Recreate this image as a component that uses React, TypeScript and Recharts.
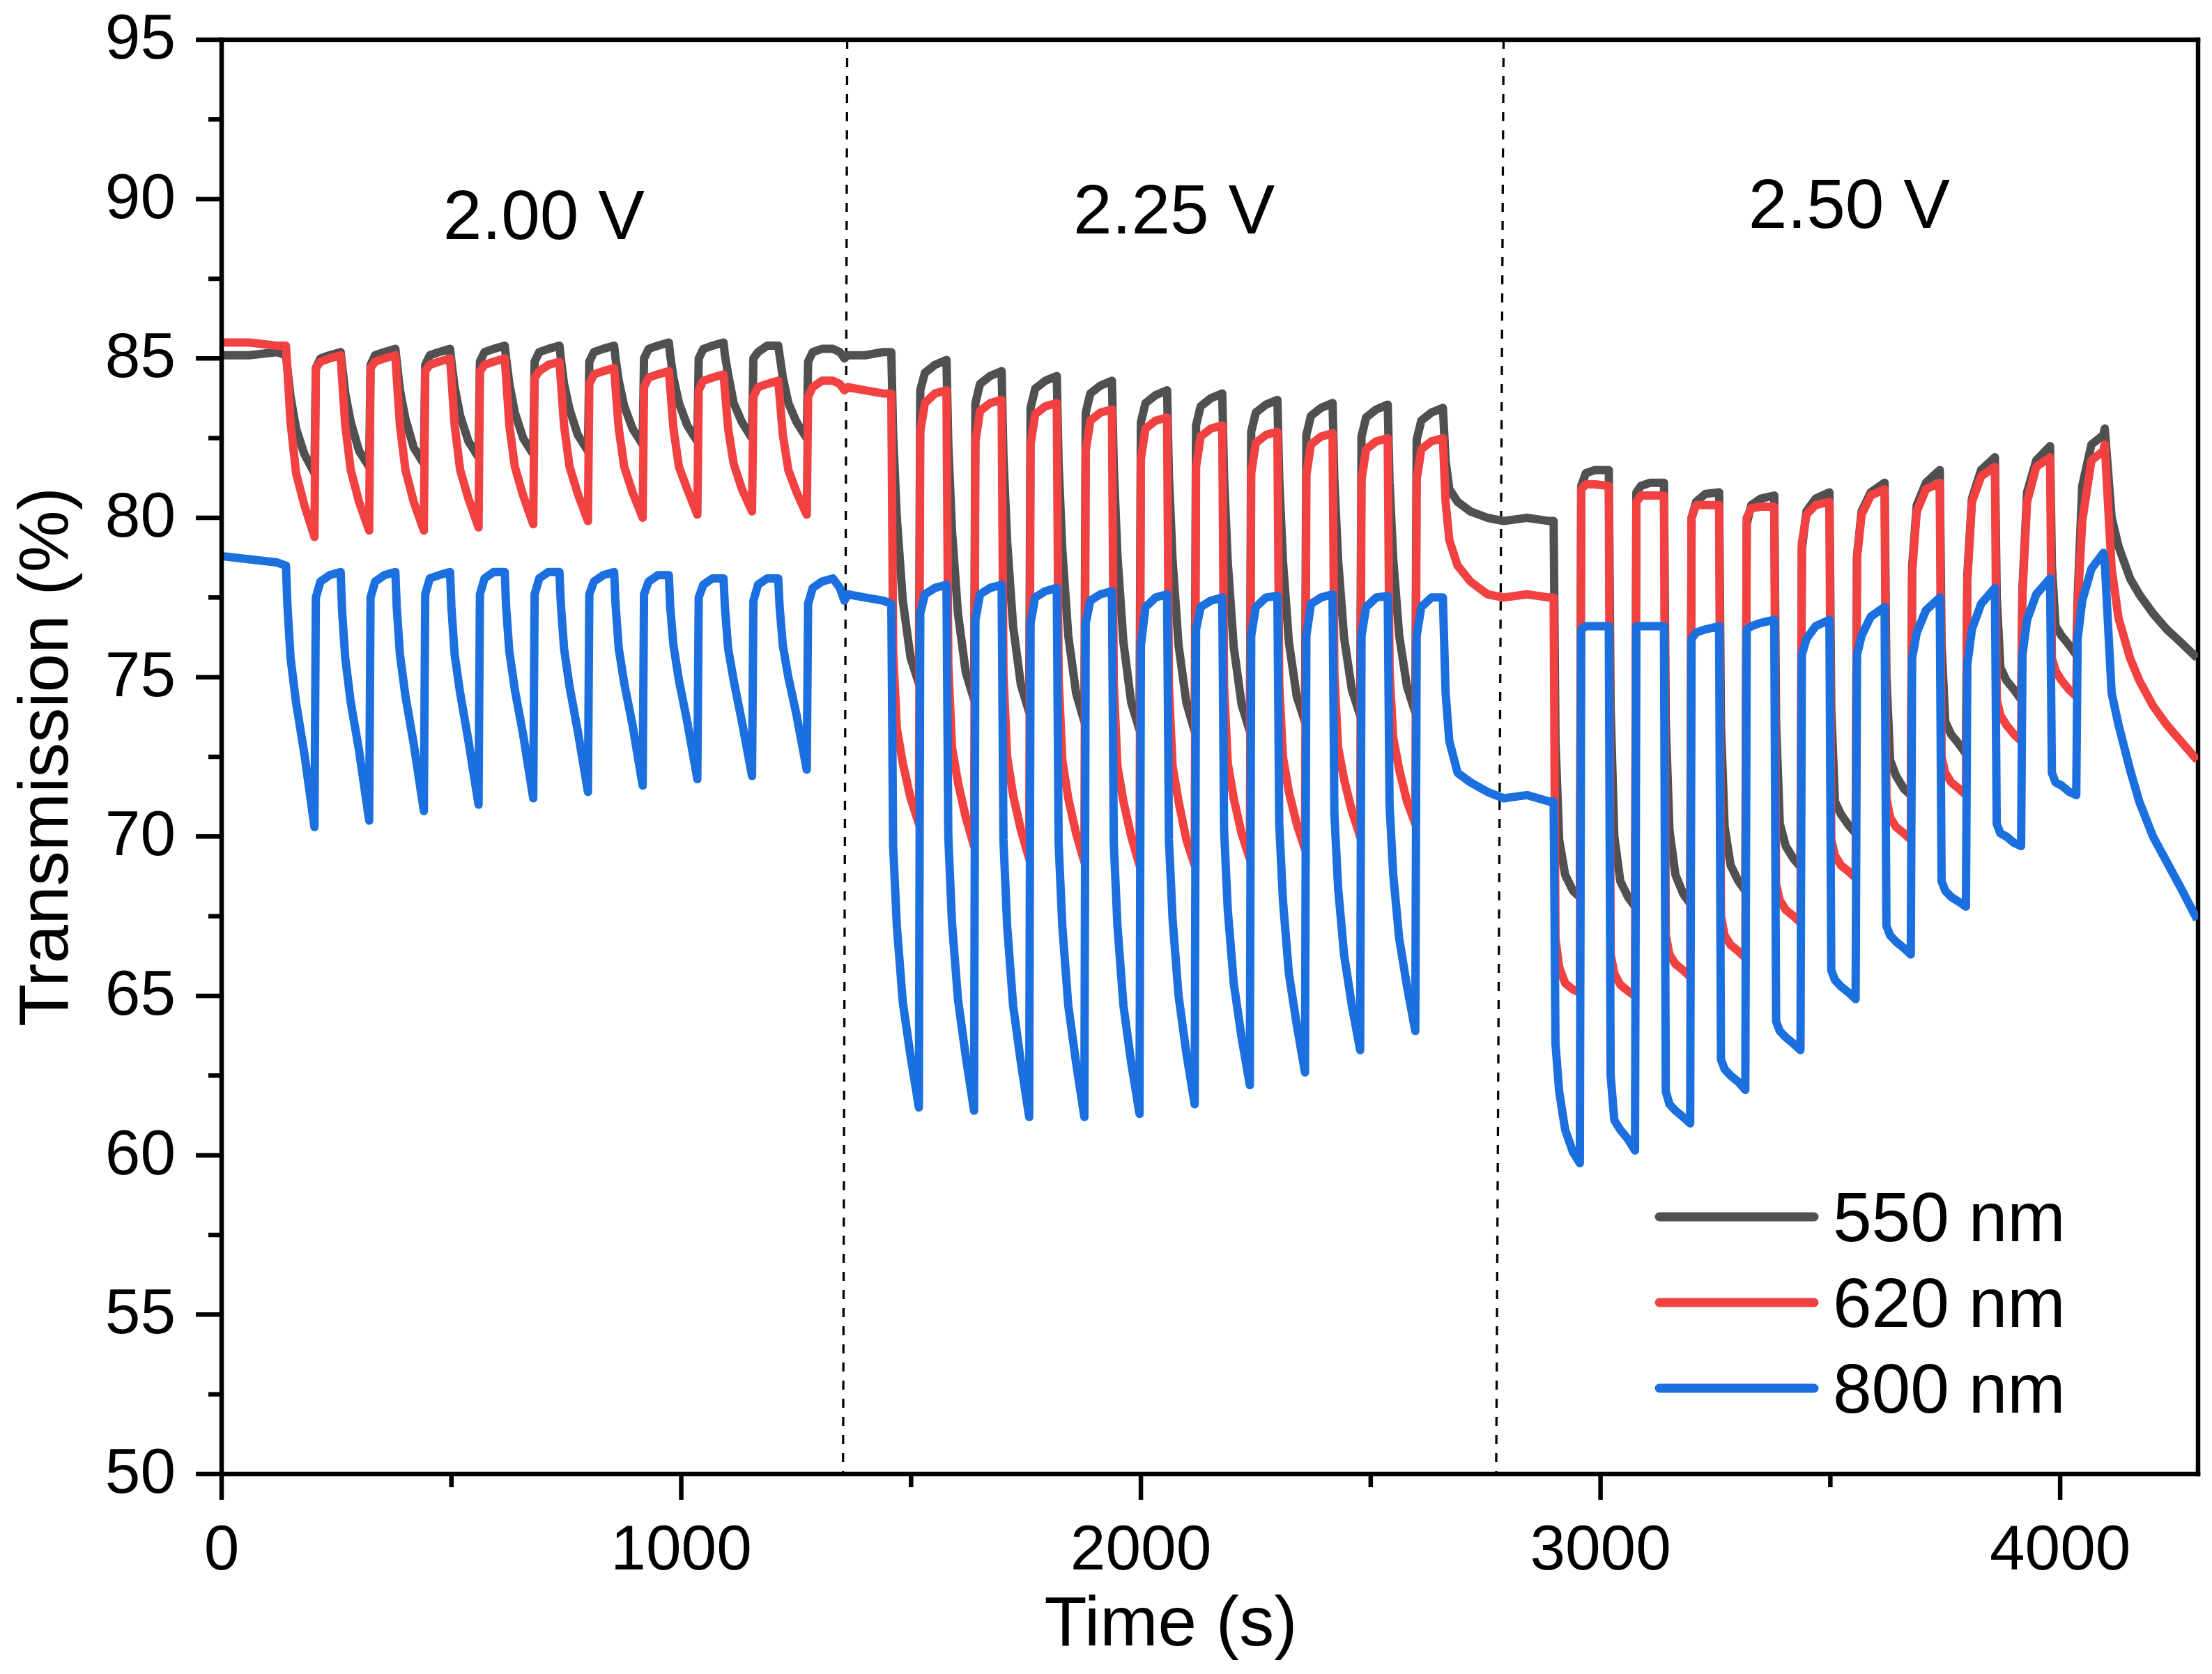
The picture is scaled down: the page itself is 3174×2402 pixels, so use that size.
import { LineChart, Line, XAxis, YAxis, ReferenceLine, ReferenceDot, Legend } from 'recharts';

// canvas + plot box (px)
const W = 3174;
const H = 2402;
const PLOT = { left: 318, top: 57, right: 3154, bottom: 2115 };
const FONT = '"Liberation Sans", Arial, Helvetica, sans-serif';

const seriesNames = ['550 nm', '620 nm', '800 nm'];
const seriesColors = ['#505050', '#f24141', '#1b6fde'];

const xTicks = [0, 500, 1000, 1500, 2000, 2500, 3000, 3500, 4000];
const yTicks = [50, 52.5, 55, 57.5, 60, 62.5, 65, 67.5, 70, 72.5, 75, 77.5, 80, 82.5, 85, 87.5, 90, 92.5, 95];

const voltageLabels = ['2.00 V', '2.25 V', '2.50 V'];
const voltageX = [701, 2072, 3541];
const voltageY = [89.52, 89.7, 89.87];

// ---- 2.00 V block: cycle start times (s) and sample offsets inside each cycle
const offsets200 = [0, 3, 10, 22, 40, 62, 65, 75, 95];
const starts200 = [140, 259, 378, 497, 616, 735, 854, 973, 1092, 1211];
const black200 = [
  [85.1, 84.7, 83.8, 82.8, 82.0, 81.4, 84.7, 85.0, 85.1],
  [85.2, 84.8, 83.9, 83.0, 82.1, 81.6, 84.8, 85.1, 85.2],
  [85.3, 84.9, 84.0, 83.1, 82.2, 81.7, 84.8, 85.1, 85.2],
  [85.3, 84.9, 84.1, 83.2, 82.4, 81.9, 84.9, 85.2, 85.3],
  [85.4, 85.0, 84.2, 83.3, 82.5, 82.0, 84.9, 85.2, 85.3],
  [85.4, 85.0, 84.2, 83.4, 82.6, 82.1, 84.9, 85.2, 85.3],
  [85.4, 85.0, 84.3, 83.5, 82.8, 82.3, 85.0, 85.3, 85.4],
  [85.5, 85.1, 84.4, 83.6, 82.9, 82.4, 85.0, 85.3, 85.4],
  [85.5, 85.1, 84.5, 83.6, 83.0, 82.5, 85.0, 85.2, 85.4],
  [85.4, 85.1, 84.4, 83.6, 83.0, 82.5, 84.9, 85.2, 85.3],
];
const red200 = [
  [85.4, 84.7, 83.0, 81.4, 80.4, 79.4, 84.7, 84.9, 85.0],
  [85.1, 84.4, 82.9, 81.5, 80.5, 79.6, 84.7, 84.9, 85.0],
  [85.1, 84.4, 82.9, 81.5, 80.5, 79.6, 84.6, 84.8, 84.9],
  [85.0, 84.4, 82.9, 81.5, 80.6, 79.7, 84.6, 84.8, 84.9],
  [85.0, 84.4, 82.9, 81.6, 80.7, 79.8, 84.4, 84.6, 84.8],
  [84.9, 84.3, 82.9, 81.6, 80.75, 79.9, 84.2, 84.5, 84.6],
  [84.7, 84.1, 82.8, 81.6, 80.8, 80.0, 84.1, 84.4, 84.5],
  [84.6, 84.1, 82.8, 81.6, 80.9, 80.1, 84.0, 84.3, 84.4],
  [84.5, 84.0, 82.8, 81.7, 80.9, 80.2, 83.8, 84.1, 84.2],
  [84.3, 83.8, 82.6, 81.5, 80.8, 80.1, 83.8, 84.1, 84.3],
];
const blue200 = [
  [78.5, 77.3, 75.6, 74.2, 72.6, 70.3, 77.5, 78.0, 78.2],
  [78.3, 77.1, 75.6, 74.2, 72.7, 70.5, 77.5, 78.0, 78.2],
  [78.3, 77.2, 75.7, 74.4, 72.9, 70.8, 77.6, 78.1, 78.2],
  [78.3, 77.2, 75.7, 74.5, 73.0, 71.0, 77.6, 78.1, 78.3],
  [78.3, 77.2, 75.8, 74.6, 73.2, 71.2, 77.6, 78.1, 78.3],
  [78.3, 77.3, 75.9, 74.7, 73.3, 71.4, 77.6, 78.0, 78.2],
  [78.3, 77.3, 75.9, 74.8, 73.5, 71.6, 77.6, 78.0, 78.2],
  [78.2, 77.2, 76.0, 74.9, 73.6, 71.8, 77.5, 77.9, 78.1],
  [78.1, 77.2, 75.9, 74.9, 73.6, 71.9, 77.4, 77.9, 78.1],
  [78.1, 77.2, 76.0, 75.0, 73.8, 72.1, 77.3, 77.8, 78.0],
];

// ---- 2.25 V block
const offsets225 = [0, 4, 12, 25, 42, 60, 63, 73, 95];
const starts225 = [1457, 1577, 1697, 1817, 1937, 2057, 2177, 2297, 2417, 2537];
const black225 = [
  [85.2, 82.6, 80.0, 77.4, 75.6, 74.8, 84.0, 84.55, 84.8],
  [84.95, 82.3, 79.6, 77.0, 75.15, 74.3, 83.6, 84.2, 84.45],
  [84.6, 81.9, 79.25, 76.6, 74.75, 73.9, 83.45, 84.05, 84.3],
  [84.45, 81.7, 79.0, 76.3, 74.5, 73.6, 83.3, 83.9, 84.15],
  [84.3, 81.6, 78.8, 76.1, 74.2, 73.35, 83.0, 83.6, 83.85],
  [84.0, 81.3, 78.65, 76.0, 74.2, 73.3, 82.9, 83.5, 83.75],
  [83.9, 81.25, 78.6, 75.95, 74.15, 73.3, 82.7, 83.3, 83.55],
  [83.7, 81.2, 78.65, 76.1, 74.4, 73.6, 82.6, 83.2, 83.45],
  [83.6, 81.15, 78.7, 76.25, 74.6, 73.8, 82.55, 83.15, 83.4],
  [83.55, 81.1, 78.7, 76.3, 74.7, 73.9, 82.45, 83.05, 83.3],
];
const red225 = [
  [83.9, 75.8, 73.4, 72.3, 71.2, 70.4, 82.7, 83.6, 83.9],
  [84.0, 75.4, 72.8, 71.7, 70.6, 69.7, 82.4, 83.35, 83.6],
  [83.7, 75.1, 72.5, 71.3, 70.2, 69.3, 82.3, 83.25, 83.5],
  [83.6, 75.0, 72.4, 71.2, 70.1, 69.2, 82.1, 83.05, 83.3],
  [83.4, 74.8, 72.2, 71.1, 70.0, 69.1, 81.85, 82.8, 83.05],
  [83.15, 74.7, 72.2, 71.1, 69.9, 69.1, 81.6, 82.55, 82.8],
  [82.9, 74.7, 72.3, 71.2, 70.1, 69.3, 81.4, 82.35, 82.6],
  [82.7, 74.8, 72.5, 71.4, 70.4, 69.6, 81.35, 82.3, 82.55],
  [82.65, 75.1, 72.8, 71.8, 70.8, 70.0, 81.2, 82.15, 82.4],
  [82.5, 75.2, 73.1, 72.1, 71.1, 70.4, 81.2, 82.15, 82.4],
];
const blue225 = [
  [77.3, 69.7, 67.2, 64.8, 63.1, 61.5, 77.0, 77.6, 77.8],
  [77.9, 70.0, 67.3, 64.9, 63.1, 61.4, 76.8, 77.6, 77.8],
  [77.9, 69.9, 67.2, 64.7, 62.9, 61.2, 76.7, 77.5, 77.7],
  [77.8, 69.8, 67.2, 64.7, 62.9, 61.2, 76.7, 77.4, 77.6],
  [77.7, 69.8, 67.2, 64.7, 62.9, 61.3, 76.0, 77.2, 77.5],
  [77.6, 69.9, 67.4, 65.0, 63.2, 61.6, 76.5, 77.2, 77.4],
  [77.5, 70.2, 67.7, 65.4, 63.7, 62.2, 76.3, 77.2, 77.5],
  [77.55, 70.4, 68.0, 65.7, 64.1, 62.6, 76.3, 77.3, 77.5],
  [77.6, 70.7, 68.4, 66.3, 64.7, 63.3, 76.3, 77.2, 77.5],
  [77.55, 71.0, 68.8, 66.8, 65.3, 63.9, 76.3, 77.2, 77.5],
];

// ---- 2.50 V block
const offsets250 = [0, 4, 12, 25, 42, 57, 60, 70, 90];
const starts250 = [2898, 3018, 3138, 3258, 3378, 3498, 3618, 3738, 3858, 3978];
const black250 = [
  [79.9, 73.0, 69.9, 68.8, 68.3, 68.1, 81.0, 81.4, 81.5],
  [81.5, 74.0, 70.0, 68.6, 68.1, 67.8, 80.8, 81.0, 81.1],
  [81.1, 73.5, 70.2, 68.8, 68.2, 67.9, 80.0, 80.5, 80.75],
  [80.8, 73.5, 70.3, 69.1, 68.6, 68.3, 79.8, 80.4, 80.6],
  [80.7, 73.5, 70.4, 69.7, 69.3, 69.05, 79.0, 80.2, 80.6],
  [80.8, 74.0, 71.1, 70.7, 70.35, 70.1, 78.8, 80.2, 80.8],
  [81.1, 75.0, 72.4, 71.9, 71.5, 71.3, 78.5, 80.4, 81.1],
  [81.5, 76.0, 73.6, 73.2, 72.9, 72.6, 78.2, 80.6, 81.5],
  [81.9, 77.5, 75.3, 74.9, 74.6, 74.3, 77.8, 80.8, 81.8],
  [82.25, 78.5, 76.6, 76.3, 76.0, 75.7, 77.5, 81.0, 82.3],
];
const red250 = [
  [77.5, 66.8, 65.9, 65.4, 65.2, 65.1, 80.9, 81.05, 81.05],
  [81.0, 66.3, 65.7, 65.35, 65.15, 65.0, 80.5, 80.7, 80.7],
  [80.7, 66.9, 66.3, 66.0, 65.8, 65.6, 80.0, 80.4, 80.4],
  [80.4, 67.5, 66.9, 66.6, 66.4, 66.2, 80.0, 80.3, 80.35],
  [80.35, 68.5, 68.0, 67.7, 67.5, 67.3, 79.2, 80.1, 80.4],
  [80.5, 69.9, 69.4, 69.1, 68.9, 68.7, 78.75, 80.1, 80.7],
  [80.9, 71.2, 70.6, 70.3, 70.1, 69.9, 78.3, 80.2, 80.9],
  [81.1, 72.5, 72.0, 71.7, 71.5, 71.3, 78.0, 80.5, 81.3],
  [81.6, 74.3, 73.8, 73.5, 73.2, 73.0, 77.6, 80.5, 81.6],
  [81.9, 75.6, 75.2, 74.9, 74.6, 74.4, 77.2, 79.9, 81.8],
];
const blue250 = [
  [71.1, 63.5, 62.0, 60.8, 60.1, 59.75, 76.5, 76.6, 76.6],
  [76.6, 62.5, 61.1, 60.8, 60.5, 60.15, 76.6, 76.6, 76.6],
  [76.6, 62.0, 61.6, 61.4, 61.2, 61.0, 76.2, 76.4, 76.5],
  [76.6, 63.0, 62.7, 62.5, 62.3, 62.05, 76.5, 76.6, 76.7],
  [76.8, 64.2, 63.9, 63.7, 63.5, 63.3, 75.7, 76.2, 76.6],
  [76.8, 65.8, 65.5, 65.3, 65.1, 64.9, 75.7, 76.3, 76.9],
  [77.2, 67.2, 66.9, 66.7, 66.5, 66.3, 75.6, 76.4, 77.1],
  [77.5, 68.6, 68.3, 68.1, 67.95, 67.8, 75.4, 76.5, 77.3],
  [77.8, 70.4, 70.1, 70.0, 69.8, 69.7, 75.7, 76.8, 77.6],
  [78.1, 72.0, 71.7, 71.6, 71.4, 71.3, 76.2, 77.4, 78.4],
];

// ---- rest periods between and around the blocks
const linkTime = [0, 60, 120, 1330, 1345, 1355, 1362, 1400, 1440, 2657, 2663, 2671, 2689, 2717, 2754, 2789, 2840, 2888,
  4094, 4097, 4112, 4127, 4152, 4172, 4202, 4232, 4262, 4298];
const linkBlack = [85.1, 85.1, 85.2, 85.3, 85.2, 85.0, 85.1, 85.1, 85.2, 83.45, 81.8, 80.9, 80.5, 80.2, 80.0, 79.9, 80.0, 79.9,
  82.6, 82.8, 80.0, 79.1, 78.1, 77.6, 77.0, 76.5, 76.1, 75.6];
const linkRed = [85.5, 85.5, 85.4, 84.3, 84.2, 84.0, 84.1, 84.0, 83.9, 82.5, 80.5, 79.3, 78.5, 78.0, 77.6, 77.5, 77.6, 77.5,
  82.1, 82.3, 78.4, 76.85, 75.6, 74.9, 74.1, 73.5, 73.0, 72.4];
const linkBlue = [78.8, 78.7, 78.6, 78.1, 77.8, 77.4, 77.6, 77.5, 77.4, 77.5, 74.5, 73.0, 72.0, 71.7, 71.4, 71.2, 71.3, 71.1,
  78.9, 78.6, 74.5, 73.5, 72.1, 71.1, 70.0, 69.2, 68.4, 67.4];

type Row = { t: number; black: number; red: number; blue: number };

function buildRows(): Row[] {
  const rows: Row[] = [];
  const addBlock = (starts: number[], offsets: number[], b: number[][], r: number[][], u: number[][]) => {
    starts.forEach((s, k) => {
      offsets.forEach((o, j) => {
        rows.push({ t: s + o, black: b[k][j], red: r[k][j], blue: u[k][j] });
      });
    });
  };
  addBlock(starts200, offsets200, black200, red200, blue200);
  addBlock(starts225, offsets225, black225, red225, blue225);
  addBlock(starts250, offsets250, black250, red250, blue250);
  linkTime.forEach((t, i) => rows.push({ t, black: linkBlack[i], red: linkRed[i], blue: linkBlue[i] }));
  rows.sort((a, b) => a.t - b.t);
  return rows;
}

const data = buildRows();

const XTick = (props: any) => {
  const { x, payload } = props;
  const major = payload.value % 1000 === 0;
  return (
    <g>
      <line x1={x} x2={x} y1={PLOT.bottom} y2={PLOT.bottom + (major ? 37 : 19)} stroke="#000" strokeWidth={6.5} />
      {major && (
        <text x={x} y={PLOT.bottom + 137} textAnchor="middle" fontSize={91} fontFamily={FONT} fill="#000">
          {payload.value}
        </text>
      )}
    </g>
  );
};

const YTick = (props: any) => {
  const { y, payload } = props;
  const major = payload.value % 5 === 0;
  return (
    <g>
      <line x1={PLOT.left - (major ? 37 : 19)} x2={PLOT.left} y1={y} y2={y} stroke="#000" strokeWidth={6.5} />
      {major && (
        <text x={252} y={y + 27} textAnchor="end" fontSize={91} fontFamily={FONT} fill="#000">
          {payload.value}
        </text>
      )}
    </g>
  );
};

const XTitle = () => (
  <text x={1680} y={2361} textAnchor="middle" fontSize={100} fontFamily={FONT} fill="#000">
    Time (s)
  </text>
);

const YTitle = () => (
  <text x={97} y={1086} transform="rotate(-90, 97, 1086)" textAnchor="middle" fontSize={100} fontFamily={FONT} fill="#000">
    Transmission (%)
  </text>
);

const renderLegend = (props: any) => {
  const payload = props.payload || [];
  return (
    <svg width={830} height={380} style={{ display: 'block' }}>
      {payload.map((entry: any, i: number) => {
        const y = 66 + i * 123;
        return (
          <g key={entry.value}>
            <line x1={41} x2={263} y1={y} y2={y} stroke={entry.color} strokeWidth={13} strokeLinecap="round" />
            <text x={290} y={y + 35} fontSize={100} fontFamily={FONT} fill="#000">
              {entry.value}
            </text>
          </g>
        );
      })}
    </svg>
  );
};

export default function App() {
  return (
    <div style={{ position: 'fixed', left: 0, top: 0, width: W, height: H, background: '#fff' }}>
      <LineChart
        width={W}
        height={H}
        data={data}
        margin={{ top: PLOT.top, right: W - PLOT.right, bottom: 87, left: 18 }}
      >
        <XAxis
          dataKey="t"
          type="number"
          domain={[0, 4300]}
          ticks={xTicks}
          interval={0}
          allowDataOverflow
          height={200}
          tickLine={false}
          tick={<XTick />}
          axisLine={{ stroke: '#000', strokeWidth: 6.5, strokeLinecap: 'square' }}
          label={{ content: <XTitle /> }}
        />
        <YAxis
          type="number"
          domain={[50, 95]}
          ticks={yTicks}
          interval={0}
          allowDataOverflow
          width={300}
          tickLine={false}
          tick={<YTick />}
          axisLine={{ stroke: '#000', strokeWidth: 6.5, strokeLinecap: 'square' }}
          label={{ content: <YTitle /> }}
        />
        <ReferenceLine y={95} stroke="#000" strokeWidth={6.5} strokeLinecap="square" />
        <ReferenceLine x={4300} stroke="#000" strokeWidth={6.5} strokeLinecap="square" />
        <ReferenceLine
          segment={[{ x: 1361, y: 95 }, { x: 1352, y: 50 }]}
          stroke="#000"
          strokeWidth={3.3}
          strokeDasharray="13 13"
        />
        <ReferenceLine
          segment={[{ x: 2789, y: 95 }, { x: 2773, y: 50 }]}
          stroke="#000"
          strokeWidth={3.3}
          strokeDasharray="13 13"
        />
        {voltageLabels.map((v, i) => (
          <ReferenceDot
            key={v}
            x={voltageX[i]}
            y={voltageY[i]}
            r={0}
            fill="none"
            stroke="none"
            label={{ value: v, position: 'center', fontSize: 100, fontFamily: FONT, fill: '#000' }}
          />
        ))}
        <Line
          type="linear"
          dataKey="black"
          name={seriesNames[0]}
          stroke={seriesColors[0]}
          strokeWidth={12}
          strokeLinejoin="round"
          dot={false}
          isAnimationActive={false}
        />
        <Line
          type="linear"
          dataKey="red"
          name={seriesNames[1]}
          stroke={seriesColors[1]}
          strokeWidth={12}
          strokeLinejoin="round"
          dot={false}
          isAnimationActive={false}
        />
        <Line
          type="linear"
          dataKey="blue"
          name={seriesNames[2]}
          stroke={seriesColors[2]}
          strokeWidth={12}
          strokeLinejoin="round"
          dot={false}
          isAnimationActive={false}
        />
        <Legend
          layout="vertical"
          align="center"
          verticalAlign="middle"
          content={renderLegend}
          wrapperStyle={{ left: 2340, top: 1680, width: 830, height: 380 }}
        />
      </LineChart>
    </div>
  );
}
